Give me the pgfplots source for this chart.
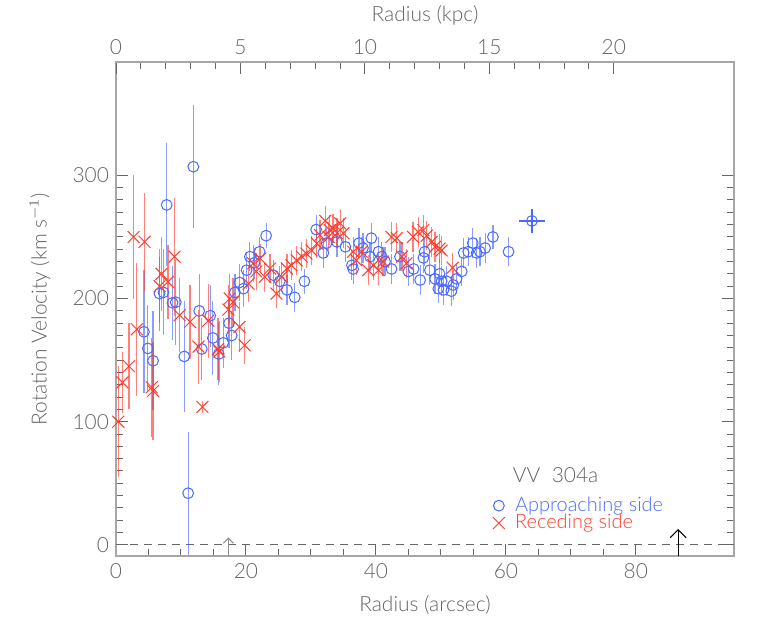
\documentclass[border=0pt]{standalone}
\usepackage{pgfplots}
\pgfplotsset{compat=1.18}
\usepackage{fontspec}
\setmainfont{Lato}[UprightFont=* Light]
\usetikzlibrary{arrows.meta}
\definecolor{apblue}{RGB}{75,105,255}
\definecolor{rcred}{RGB}{255,60,45}
\definecolor{textgray}{RGB}{100,100,100}
\begin{document}
\begin{tikzpicture}
\path[use as bounding box] (-58bp,-31bp) rectangle (328bp,278bp);
\begin{axis}[
  at={(0,0)}, anchor=south west, scale only axis, width=309bp, height=247bp,
  xmin=0, xmax=95.1, ymin=-9, ymax=392,
  axis line style={draw=black!35, line width=0.9bp},
  xtick={0,20,40,60,80}, minor x tick num=3,
  ytick={0,100,200,300}, minor y tick num=9,
  xtick pos=lower, ytick pos=both, tick align=inside,
  major tick length=6bp, minor tick length=3.5bp,
  tick style={draw=black!60, line width=0.5bp},
  /pgf/number format/assume math mode=true,
  every tick label/.append style={text=textgray, font=\fontsize{10.5}{12}\selectfont},
  xlabel={Radius (arcsec)}, ylabel={Rotation Velocity (km s$^{-1}$)},
  label style={text=textgray, font=\fontsize{10.5}{12}\selectfont},
  xlabel style={at={(axis description cs:0.5,-0.0992)}, anchor=center},
  ylabel style={at={(axis description cs:-0.123,0.5)}, anchor=center},
  legend style={draw=none, fill=none, at={(axis cs:57.0,43.5)}, anchor=north west,
    font=\fontsize{10}{11}\selectfont, row sep=-1.2bp, nodes={inner sep=0.6bp}},
  legend cell align=left,
  legend image code/.code={\draw[#1,only marks] plot coordinates {(0.1cm,0cm)}; \path (0cm,0cm) (0.36cm,0cm);},
]
\addplot[dashed, dash pattern=on 4bp off 3bp, black!60, line width=0.5bp, forget plot] coordinates {(0,0) (95.1,0)};

% Approaching side
\addplot[only marks, mark=o, mark size=2.7bp, mark options={apblue, line width=0.5bp},
  error bars/.cd, y dir=both, y explicit, error mark=none,
  error bar style={apblue, opacity=0.65, line width=0.6bp}]
coordinates {
(4.3,173) +- (0,50)
(4.9,159.5) +- (0,35)
(5.7,149.5) +- (0,40)
(6.7,204) +- (0,30)
(7.3,205) +- (0,35)
(7.8,276) +- (0,50)
(8.7,196.5) +- (0,30)
(9.2,197) +- (0,35)
(10.5,153) +- (0,45)
(11.1,42) +- (0,50)
(11.9,307) +- (0,50)
(12.8,190) +- (0,30)
(13.2,159) +- (0,25)
(14.5,186) +- (0,25)
(14.9,168) +- (0,30)
(15.8,155) +- (0,25)
(16.5,164) +- (0,20)
(17.4,180) +- (0,20)
(17.8,170) +- (0,20)
(18.3,205) +- (0,15)
(19.0,213) +- (0,15)
(19.6,208) +- (0,15)
(20.1,223) +- (0,15)
(20.6,234) +- (0,12)
(21.3,229) +- (0,12)
(22.1,238) +- (0,12)
(23.1,251) +- (0,10)
(24.2,219) +- (0,12)
(25.2,214) +- (0,12)
(26.3,207) +- (0,12)
(27.5,201) +- (0,12)
(29.0,214) +- (0,10)
(30.8,256) +- (0,12)
(31.9,237) +- (0,12)
(32.4,245) +- (0,12)
(34.0,246) +- (0,12)
(35.3,242) +- (0,12)
(36.3,227) +- (0,12)
(36.5,224) +- (0,12)
(37.4,245) +- (0,12)
(38.0,241) +- (0,12)
(39.1,234) +- (0,12)
(39.3,249) +- (0,12)
(40.4,238) +- (0,12)
(40.9,234) +- (0,12)
(41.4,230) +- (0,12)
(42.4,224) +- (0,12)
(43.7,234) +- (0,12)
(45.0,222) +- (0,12)
(45.8,224) +- (0,12)
(46.8,215) +- (0,12)
(47.3,233) +- (0,12)
(47.5,238) +- (0,12)
(48.3,223) +- (0,12)
(49.1,216) +- (0,12)
(49.6,208) +- (0,12)
(49.8,220) +- (0,12)
(50.1,214) +- (0,12)
(50.4,207) +- (0,12)
(50.9,214) +- (0,12)
(51.6,206) +- (0,12)
(51.9,211) +- (0,12)
(52.4,216) +- (0,12)
(53.2,222) +- (0,12)
(53.5,237) +- (0,12)
(54.2,238) +- (0,12)
(54.9,245) +- (0,12)
(55.5,237) +- (0,12)
(56.0,238) +- (0,12)
(56.8,241) +- (0,12)
(58.0,250) +- (0,10)
(60.4,238) +- (0,12)
};
\addlegendentry{\textcolor{apblue}{Approaching side}}

% Receding side
\addplot[only marks, mark=x, mark size=4.2bp, mark options={rcred, line width=0.5bp},
  error bars/.cd, y dir=both, y explicit, error mark=none,
  error bar style={rcred, opacity=0.65, line width=0.6bp}]
coordinates {
(0.35,100) +- (0,45)
(1.0,132) +- (0,25)
(2.0,145) +- (0,35)
(2.7,250) +- (0,50)
(3.2,175) +- (0,54)
(4.4,246) +- (0,40)
(5.5,128) +- (0,40)
(5.7,125) +- (0,40)
(6.7,210) +- (0,30)
(7.0,220) +- (0,30)
(8.0,213.5) +- (0,30)
(9.0,234) +- (0,48)
(9.8,186.5) +- (0,30)
(11.4,181) +- (0,30)
(12.7,161) +- (0,30)
(13.3,112) +- (0,5)
(14.2,182) +- (0,30)
(15.7,159) +- (0,25)
(15.9,157) +- (0,25)
(17.3,191) +- (0,20)
(17.5,200) +- (0,20)
(18.0,197) +- (0,20)
(19.0,177) +- (0,20)
(19.8,162) +- (0,15)
(20.4,212) +- (0,15)
(21.1,228.5) +- (0,15)
(21.6,222) +- (0,15)
(22.2,232.5) +- (0,12)
(22.9,217.6) +- (0,12)
(23.7,224.4) +- (0,12)
(24.7,204) +- (0,12)
(25.5,217.6) +- (0,12)
(26.3,224.4) +- (0,12)
(27.0,227) +- (0,12)
(27.8,231) +- (0,12)
(28.6,234) +- (0,12)
(29.3,236.5) +- (0,12)
(30.1,239) +- (0,12)
(30.9,244.7) +- (0,12)
(31.4,251.4) +- (0,12)
(32.2,263) +- (0,12)
(32.7,250) +- (0,12)
(32.9,255.5) +- (0,12)
(33.4,257) +- (0,12)
(34.0,253) +- (0,12)
(34.5,261) +- (0,12)
(35.0,253) +- (0,12)
(36.5,238) +- (0,12)
(37.0,231) +- (0,12)
(37.8,238) +- (0,12)
(38.8,223) +- (0,12)
(39.6,227) +- (0,12)
(40.4,223) +- (0,12)
(41.1,230) +- (0,12)
(42.4,250) +- (0,12)
(43.2,249) +- (0,12)
(44.0,234) +- (0,12)
(44.7,228.5) +- (0,12)
(45.7,250) +- (0,12)
(46.5,254) +- (0,12)
(47.3,255.5) +- (0,12)
(47.8,251) +- (0,12)
(48.6,246) +- (0,12)
(49.1,242) +- (0,12)
(49.8,240.6) +- (0,12)
(50.1,239) +- (0,12)
(51.8,225) +- (0,12)
};
\addlegendentry{\textcolor{rcred}{Receding side}}

% outermost approaching point with radial error
\addplot[only marks, mark=o, mark size=2.7bp, mark options={apblue, line width=0.5bp}, forget plot,
  error bars/.cd, x dir=both, x explicit, y dir=both, y explicit, error mark=none,
  error bar style={apblue, line width=0.6bp}]
coordinates {(64.0,263) +- (2,10)};

\node[anchor=west, text=textgray, font=\fontsize{10.5}{12}\selectfont] at (axis cs:60.0,56.8) {VV\ \ 304a};
\draw[black!45, line width=0.5bp, -{Straight Barb[length=2.5bp,width=5bp]}] (axis cs:17.3,-9) -- (axis cs:17.3,6);
\draw[black, line width=0.6bp, -{Straight Barb[length=4bp,width=8bp]}] (axis cs:86.5,-9) -- (axis cs:86.5,13);
\end{axis}
\begin{axis}[
  at={(0,0)}, anchor=south west, scale only axis, width=309bp, height=247bp,
  xmin=0, xmax=24.83, ymin=0, ymax=1,
  axis x line*=top, axis y line=none,
  axis line style={draw=black!35, line width=0.9bp},
  xtick={0,5,10,15,20}, minor x tick num=4, tick align=inside,
  major tick length=6bp, minor tick length=3.5bp,
  tick style={draw=black!60, line width=0.5bp},
  /pgf/number format/assume math mode=true,
  every tick label/.append style={text=textgray, font=\fontsize{10.5}{12}\selectfont},
  xlabel={Radius (kpc)},
  label style={text=textgray, font=\fontsize{10.5}{12}\selectfont},
  xlabel style={at={(axis description cs:0.5,1.095)}, anchor=center},
]
\addplot[draw=none] coordinates {(0,0)};
\end{axis}
\end{tikzpicture}
\end{document}
